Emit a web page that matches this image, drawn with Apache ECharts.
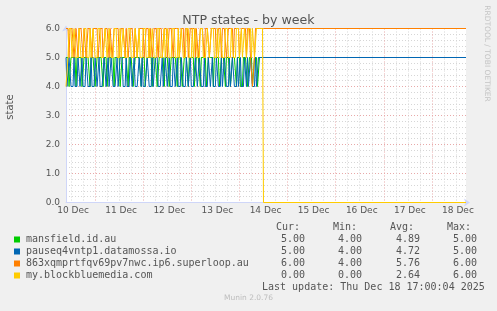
<!DOCTYPE html>
<html><head><meta charset="utf-8">
<script src="https://cdn.jsdelivr.net/npm/echarts@6/dist/echarts.min.js"></script>
<style>html,body{margin:0;padding:0;background:#F0F0F0}#c{width:497px;height:311px}</style>
</head><body><div id="c"></div>
<script>
// x axis: half-hour slots across the week graph
const slotCount = 400;
const dayLabels = ['10 Dec','11 Dec','12 Dec','13 Dec','14 Dec','15 Dec','16 Dec','17 Dec','18 Dec'];
const labelStart = 7, majorStart = 29, minorStart = 5, slotsPerDay = 48, slotsPerMinor = 12;

// half-hourly readings for the first part of the week
const green = [
5,5,5,4,4,5,5,5,5,5, 4,5,5,5,5,5,4,4,5,5,
5,5,5,5,4,5,5,5,5,4, 4,5,5,5,5,5,5,4,5,5,
5,4,4,5,5,5,5,5,4,5, 5,5,5,5,4,4,5,5,5,5,
5,5,4,5,5,5,5,4,4,5, 5,5,5,5,5,4,5,5,5,4,
4,5,5,5,5,5,4,5,5,5, 5,4,4,5,5,5,5,5,4,5,
5,5,5,4,4,5,5,5,5,5, 5,4,5,5,5,5,4,4,5,5,
5,5,4,5,5,5,5,5,4,4, 5,5,5,5,4,5,5,5,5,5,
4,4,5,5,5,5,5,4,5,5, 5,5,5,4,4,5,5,5,5,4,
5,5,5,5,4,4,5,5,5,5, 4,5,5,5,4,4,4,5,5,5,
5,4,4,5,5,5,4,4,5,5, 5,4,4,5,5,5,5];
const blue = [
5,4,4,5,5,4,4,4,5,4, 4,4,5,5,4,4,5,4,4,4,
5,5,4,4,4,5,4,4,4,5, 5,4,4,5,4,4,4,4,5,5,
4,4,5,4,4,5,5,4,4,4, 4,5,4,4,5,5,5,4,4,4,
5,4,4,4,5,5,4,4,5,4, 4,4,4,5,5,4,5,4,4,4,
4,5,5,4,4,4,5,4,4,5, 5,5,4,4,4,4,5,4,4,5,
5,4,4,5,4,4,4,5,5,4, 4,5,4,4,4,5,5,4,4,4,
5,5,4,4,5,4,4,4,4,5, 5,4,4,5,5,4,4,4,5,4,
4,4,5,5,4,4,5,4,4,4, 5,5,4,4,4,5,4,4,5,5,
4,4,4,5,4,4,5,5,4,4, 4,5,4,4,5,4,4,4,5,5,
4,5,4,4,5,5,4,4,4,5, 4,4,5,5,5,5,5];
const orange = [
6,6,6,5,6,6,6,6,5,5, 6,6,5,6,6,6,6,5,6,6,
5,5,6,6,6,6,5,6,6,6, 6,6,5,5,6,6,6,5,5,6,
6,6,6,5,6,6,5,5,6,6, 6,6,6,5,5,6,6,6,6,5,
6,6,5,5,6,6,6,6,5,6, 6,5,5,6,6,6,6,6,5,5,
6,6,6,5,6,6,5,5,6,6, 6,6,5,6,6,6,5,5,6,6,
6,5,5,6,6,6,6,5,6,6, 6,6,6,5,5,6,6,6,5,6,
6,6,5,5,6,6,6,6,6,5, 6,6,5,5,6,6,6,6,5,6,
6,6,6,5,5,6,6,6,6,6, 5,5,6,6,6,5,6,6,6,6,
5,5,6,6,6,6,6,5,6,6, 6,6,6,5,5,6,6,6,6,6,
5,6,6,6,5,5,4,4,5,6, 6,6,6,6,6,6,6];
const yellow = [
4,4,5,6,6,6,5,5,6,6, 5,5,5,6,6,5,5,5,6,6,
6,5,5,5,6,5,5,6,6,5, 5,5,6,6,6,5,5,5,5,6,
6,5,5,6,6,5,5,5,6,6, 6,5,5,5,6,5,5,6,6,5,
5,5,6,6,6,5,5,5,5,6, 6,5,5,6,5,5,5,6,6,6,
5,5,5,6,5,5,6,6,5,5, 5,6,6,6,5,5,5,5,6,5,
5,6,6,5,5,5,6,6,6,5, 5,5,6,5,5,6,6,5,5,5,
6,6,6,5,5,5,6,5,5,6, 6,5,5,5,6,6,6,5,5,5,
5,6,6,5,5,6,6,6,5,5, 5,6,5,5,6,6,5,5,5,6,
6,6,5,5,5,6,6,5,5,5, 6,6,6,5,5,6,5,5,6,6,
5,5,6,6,6,5,6,6,5,5, 6,6,6,6,6,6,6];
// steady state after the drop
const tailSlots = [197, 399];
const greenTail = [5, 5];
const blueTail = [5, 5];
const orangeTail = [6, 6];
const yellowTail = [0, 0];

const names = ['mansfield.id.au','pauseq4vntp1.datamossa.io','863xqmprtfqv69pv7nwc.ip6.superloop.au','my.blockbluemedia.com'];
const colors = ['#00CC00','#0066B3','#FF8000','#FFCC00'];
const curVals = ['5.00','5.00','6.00','0.00'];
const minVals = ['4.00','4.00','4.00','0.00'];
const avgVals = ['4.89','4.72','5.76','2.64'];
const maxVals = ['5.00','5.00','6.00','6.00'];

function build(vals, tail) {
  const d = vals.map((v, i) => [i, v]);
  tailSlots.forEach((s, k) => d.push([s, tail[k]]));
  return d;
}
const slots = Array.from({length: slotCount}, (_, i) => i);

const chart = echarts.init(document.getElementById('c'), null, {renderer: 'canvas', width: 497, height: 311});
const FONT = 'DejaVu Sans';
const MONO = 'DejaVu Sans Mono';
const axisCol = '#CFD6F8';
const majorCol = '#E8A9A9';
const minorCol = '#D6D6D6';

const graphic = [];
graphic.push({type:'text', left:'center', top: 294, style:{text:'Munin 2.0.76', font:'7.5px ' + FONT, fill:'#BDBDBD'}});
graphic.push({type:'text', x: 10, y: 107, rotation: Math.PI/2, style:{text:'state', font:'10px ' + FONT, fill:'#555', align:'center', verticalAlign:'middle'}});
graphic.push({type:'text', x: 487, y: 53.5, rotation: -Math.PI/2, style:{text:'RRDTOOL / TOBI OETIKER', font:'7.5px ' + FONT, fill:'#C4C4C4', align:'center', verticalAlign:'middle'}});
const headX = [276, 333, 390, 447];
['Cur:','Min:','Avg:','Max:'].forEach((t, i) => graphic.push({type:'text', x: headX[i], y: 227.5, style:{text:t, font:'10px ' + MONO, fill:'#555', verticalAlign:'middle'}}));
const rowY = [239.5, 251.5, 263.5, 275.5];
const valX = [281, 338, 396, 453];
names.forEach((n, i) => {
  graphic.push({type:'rect', shape:{x:14, y: rowY[i]-3, width:6, height:6}, style:{fill: colors[i]}});
  graphic.push({type:'text', x: 26, y: rowY[i], style:{text:n, font:'10px ' + MONO, fill:'#555', verticalAlign:'middle'}});
  [curVals, minVals, avgVals, maxVals].forEach((arr, k) => graphic.push({type:'text', x: valX[k], y: rowY[i], style:{text: arr[i], font:'10px ' + MONO, fill:'#555', verticalAlign:'middle'}}));
});
graphic.push({type:'text', x: 262, y: 287.7, style:{text:'Last update: Thu Dec 18 17:00:04 2025', font:'10px ' + MONO, fill:'#555', verticalAlign:'middle'}});

const series = [[green, greenTail], [blue, blueTail], [orange, orangeTail], [yellow, yellowTail]].map((p, i) => ({
  type: 'line', name: names[i], data: build(p[0], p[1]), xAxisIndex: 0, yAxisIndex: 0,
  showSymbol: false, symbol: 'none', clip: false, animation: false,
  lineStyle: {width: 1, color: colors[i]}, itemStyle: {color: colors[i]}
}));

chart.setOption({
  backgroundColor: '#F0F0F0',
  animation: false,
  title: {text: 'NTP states - by week', left: 'center', top: 9, textStyle: {fontFamily: FONT, fontSize: 12.6, fontWeight: 'normal', color: '#555'}},
  grid: {left: 66, right: 31, top: 28.5, bottom: 108.5, show: true, backgroundColor: '#FFFFFF', borderWidth: 0},
  xAxis: [
    {type: 'value', min: 0, max: slotCount - 1, show: false, position: 'bottom'},
    {type: 'category', data: slots, boundaryGap: false, position: 'bottom',
      axisLine: {show: true, onZero: false, lineStyle: {color: axisCol, width: 1}, symbol: ['none', 'arrow'], symbolSize: [6, 6], symbolOffset: [0, 4]},
      axisTick: {show: false},
      axisLabel: {show: true, interval: (i) => (i - labelStart) % slotsPerDay === 0 && i >= labelStart, formatter: (v, i) => dayLabels[(Number(v) - labelStart) / slotsPerDay] || '', fontFamily: FONT, fontSize: 9, color: '#555', margin: 4},
      splitLine: {show: true, interval: (i) => i >= majorStart && (i - majorStart) % slotsPerDay === 0, lineStyle: {color: majorCol, type: [1, 2], width: 1}}, z: 1},
    {type: 'category', data: slots, boundaryGap: false, position: 'bottom',
      axisLine: {show: false}, axisTick: {show: false}, axisLabel: {show: false},
      splitLine: {show: true, interval: (i) => i >= minorStart && (i - minorStart) % slotsPerMinor === 0 && (i - majorStart) % slotsPerDay !== 0, lineStyle: {color: minorCol, type: [1, 2], width: 1}}, z: 0}
  ],
  yAxis: [{type: 'value', min: 0, max: 6, interval: 1,
    axisLine: {show: true, lineStyle: {color: axisCol, width: 1}, symbol: ['none', 'arrow'], symbolSize: [6, 6], symbolOffset: [0, 3]},
    axisTick: {show: false},
    axisLabel: {formatter: (v) => v.toFixed(1), fontFamily: FONT, fontSize: 9, color: '#555', margin: 6},
    splitLine: {show: true, lineStyle: {color: majorCol, type: [1, 2], width: 1}},
    minorTick: {show: false, splitNumber: 5},
    minorSplitLine: {show: true, lineStyle: {color: minorCol, type: [1, 2], width: 1}}
  }],
  series: series,
  graphic: graphic
});
</script></body></html>
